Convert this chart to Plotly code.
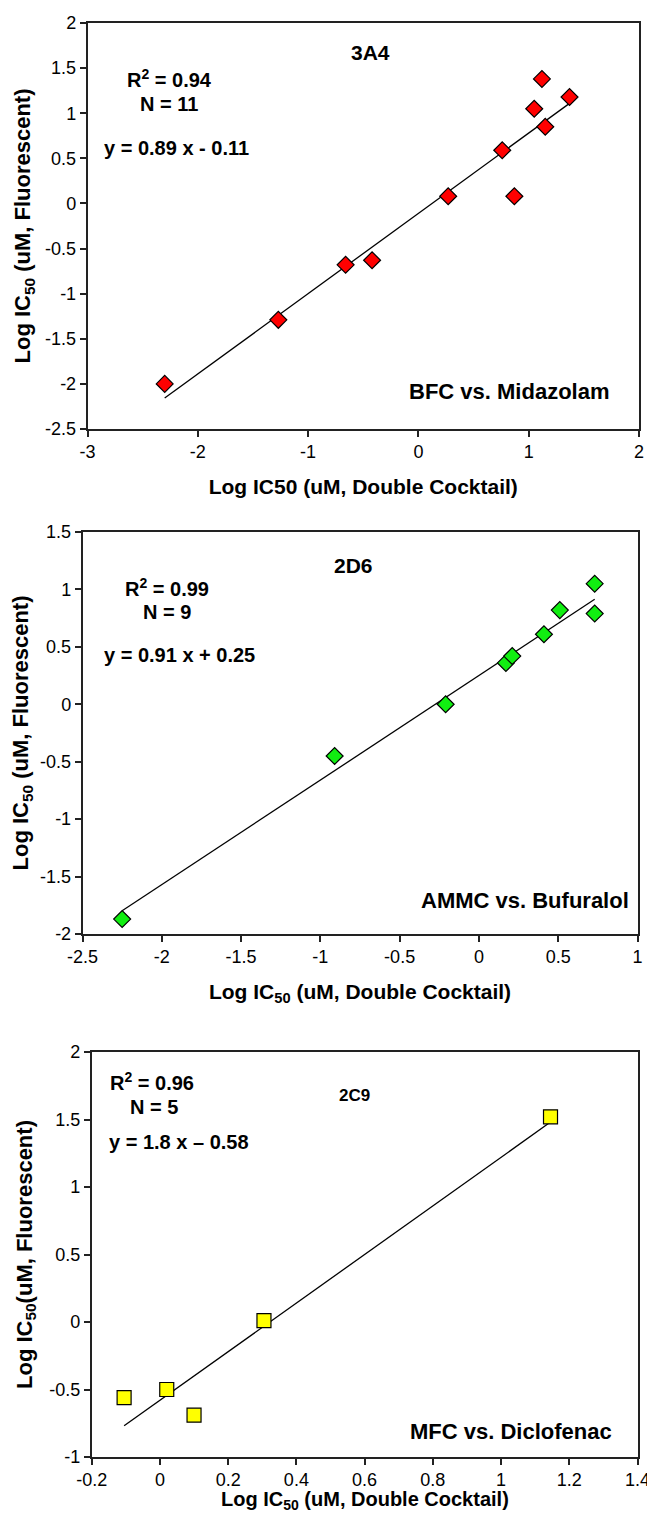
import plotly.graph_objects as go

# page has an 8 px body margin, so the figure is placed at (8, 8)
OFF = 8
W, H = 647, 1504

# ---------------- data ----------------
# Panel 1: CYP3A4, BFC vs. Midazolam
x_3a4 = [-2.30, -1.27, -0.66, -0.42, 0.27, 0.87, 0.76, 1.05, 1.12, 1.15, 1.37]
y_3a4 = [-2.00, -1.29, -0.68, -0.63, 0.08, 0.08, 0.59, 1.05, 1.38, 0.85, 1.18]
fit_3a4 = (0.89, -0.11)
stats_3a4 = ["R<sup>2</sup> = 0.94", "N = 11", "y = 0.89 x - 0.11"]
xticks_3a4 = [-3, -2, -1, 0, 1, 2]
yticks_3a4 = [-2.5, -2, -1.5, -1, -0.5, 0, 0.5, 1, 1.5, 2]

# Panel 2: CYP2D6, AMMC vs. Bufuralol
x_2d6 = [-2.25, -0.91, -0.21, 0.17, 0.21, 0.41, 0.51, 0.73, 0.73]
y_2d6 = [-1.87, -0.45, 0.00, 0.36, 0.42, 0.61, 0.82, 1.05, 0.79]
fit_2d6 = (0.91, 0.25)
stats_2d6 = ["R<sup>2</sup> = 0.99", "N = 9", "y = 0.91 x + 0.25"]
xticks_2d6 = [-2.5, -2, -1.5, -1, -0.5, 0, 0.5, 1]
yticks_2d6 = [-2, -1.5, -1, -0.5, 0, 0.5, 1, 1.5]

# Panel 3: CYP2C9, MFC vs. Diclofenac
x_2c9 = [-0.105, 0.02, 0.10, 0.305, 1.145]
y_2c9 = [-0.56, -0.50, -0.69, 0.01, 1.52]
fit_2c9 = (1.8, -0.58)
stats_2c9 = ["R<sup>2</sup> = 0.96", "N = 5", "y = 1.8 x \u2013 0.58"]
xticks_2c9 = [-0.2, 0, 0.2, 0.4, 0.6, 0.8, 1, 1.2, 1.4]
yticks_2c9 = [-1, -0.5, 0, 0.5, 1, 1.5, 2]

X_TITLE_1 = "Log IC50 (uM, Double Cocktail)"
X_TITLE_2 = "Log IC<sub>50</sub> (uM, Double Cocktail)"
Y_TITLE_12 = "Log IC<sub>50</sub> (uM, Fluorescent)"
Y_TITLE_3 = "Log IC<sub>50</sub>(uM, Fluorescent)"

# ---------------- layout helpers ----------------
FONT = "Liberation Sans, Arial, sans-serif"

def xd(l, r):
    return [(l - OFF) / W, (r - OFF) / W]

def yd(t, b):
    return [1 - (b - OFF) / H, 1 - (t - OFF) / H]

def lab(v):
    return ("%g" % v)

fig = go.Figure()

panels = [
    dict(x=x_3a4, y=y_3a4, fit=fit_3a4, color="#FF0000", symbol="diamond", size=13,
         xa="x", ya="y"),
    dict(x=x_2d6, y=y_2d6, fit=fit_2d6, color="#11EE11", symbol="diamond", size=13,
         xa="x2", ya="y2"),
    dict(x=x_2c9, y=y_2c9, fit=fit_2c9, color="#FFFF00", symbol="square", size=14,
         xa="x3", ya="y3"),
]

for p in panels:
    x0, x1 = min(p["x"]), max(p["x"])
    m, c = p["fit"]
    fig.add_trace(go.Scatter(x=[x0, x1], y=[m * x0 + c, m * x1 + c], mode="lines",
                             line=dict(color="black", width=1.3), xaxis=p["xa"], yaxis=p["ya"],
                             showlegend=False, hoverinfo="skip"))
    fig.add_trace(go.Scatter(x=p["x"], y=p["y"], mode="markers",
                             marker=dict(symbol=p["symbol"], size=p["size"], color=p["color"],
                                         line=dict(color="black", width=1.2)),
                             xaxis=p["xa"], yaxis=p["ya"], showlegend=False))

axis_common = dict(showline=True, linecolor="#222", linewidth=1.5, mirror=True,
                   ticks="outside", ticklen=6, tickcolor="#222", tickwidth=1.5,
                   showgrid=False, zeroline=False, automargin=False,
                   ticklabeloverflow="allow",
                   tickfont=dict(family=FONT, size=18, color="black"))
xt_font = dict(family=FONT, size=21, color="black")
yt_font = dict(family=FONT, size=22, color="black")

def ticks(vals):
    return dict(tickmode="array", tickvals=vals, ticktext=[lab(v) for v in vals])

x3_dom = xd(91.7, 637.5)

fig.update_layout(
    template="none",
    width=W, height=H, margin=dict(l=0, r=0, t=0, b=0),
    paper_bgcolor="white", plot_bgcolor="white",
    xaxis=dict(domain=xd(87.5, 639), range=[-3, 2], anchor="y", **ticks(xticks_3a4),
               title=dict(text="<b>" + X_TITLE_1 + "</b>", font=xt_font, standoff=18),
               **axis_common),
    yaxis=dict(domain=yd(23, 429), range=[-2.5, 2], anchor="x", **ticks(yticks_3a4),
               title=dict(text="<b>" + Y_TITLE_12 + "</b>", font=yt_font, standoff=8),
               **axis_common),
    xaxis2=dict(domain=xd(82.5, 637.5), range=[-2.5, 1], anchor="y2", **ticks(xticks_2d6),
                title=dict(text="<b>" + X_TITLE_2 + "</b>", font=xt_font, standoff=18),
                **axis_common),
    yaxis2=dict(domain=yd(532, 934), range=[-2, 1.5], anchor="x2", **ticks(yticks_2d6),
                title=dict(text="<b>" + Y_TITLE_12 + "</b>", font=yt_font, standoff=8),
                **axis_common),
    xaxis3=dict(domain=x3_dom, range=[-0.2, 1.4], anchor="y3", **ticks(xticks_2c9),
                **axis_common),
    yaxis3=dict(domain=yd(1052, 1457), range=[-1, 2], anchor="x3", **ticks(yticks_2c9),
                title=dict(text="<b>" + Y_TITLE_3 + "</b>", font=yt_font, standoff=11),
                **axis_common),
)

# bottom panel x-axis title (placed as paper annotation so it is not clamped at the page edge)
fig.add_annotation(text="<b>" + X_TITLE_2 + "</b>", xref="paper", yref="paper",
                   x=(x3_dom[0] + x3_dom[1]) / 2, y=1 - (1500.5 - OFF) / H,
                   xanchor="center", yanchor="middle", showarrow=False,
                   font=dict(family=FONT, size=20, color="black"))

def ann(text, x, y, xr, yr, size=20, xanchor="center"):
    fig.add_annotation(text="<b>" + text + "</b>", x=x, y=y, xref=xr, yref=yr,
                       showarrow=False, xanchor=xanchor, yanchor="middle",
                       font=dict(family=FONT, size=size, color="black"))

# Panel 1 annotations
ann("3A4", -0.43, 1.67, "x", "y", 21)
ann(stats_3a4[0], -2.26, 1.38, "x", "y")
ann(stats_3a4[1], -2.26, 1.10, "x", "y")
ann(stats_3a4[2], -2.19, 0.62, "x", "y")
ann("BFC vs. Midazolam", 1.75, -2.08, "x", "y", 22, "right")

# Panel 2 annotations
ann("2D6", -0.79, 1.21, "x2", "y2", 21)
ann(stats_2d6[0], -1.97, 1.02, "x2", "y2")
ann(stats_2d6[1], -1.97, 0.80, "x2", "y2")
ann(stats_2d6[2], -1.89, 0.43, "x2", "y2")
ann("AMMC vs. Bufuralol", 0.96, -1.71, "x2", "y2", 22, "right")

# Panel 3 annotations
ann("2C9", 0.57, 1.68, "x3", "y3", 17)
ann(stats_2c9[0], -0.023, 1.78, "x3", "y3")
ann(stats_2c9[1], -0.017, 1.59, "x3", "y3")
ann(stats_2c9[2], 0.056, 1.33, "x3", "y3")
ann("MFC vs. Diclofenac", 1.33, -0.81, "x3", "y3", 22, "right")

fig.write_html("out.html")
